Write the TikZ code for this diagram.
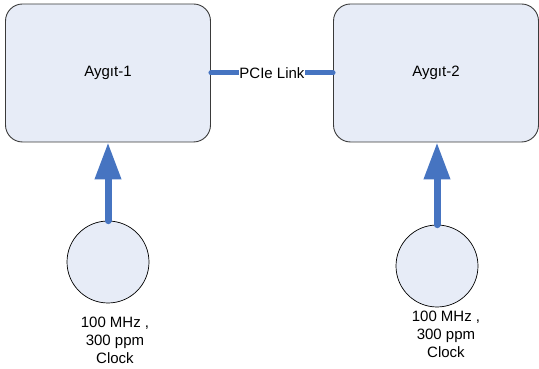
\documentclass[tikz,border=0pt]{standalone}
\usepackage{fontspec}
\setmainfont{Liberation Sans}
\usetikzlibrary{arrows.meta}
\definecolor{boxfill}{HTML}{E7ECF7}
\definecolor{linkblue}{HTML}{4674C1}
\definecolor{edgegray}{HTML}{3A3A3A}
\begin{document}
\begin{tikzpicture}[x=1pt,y=1pt,
  font=\fontsize{15}{18}\selectfont,
  device/.style={draw=edgegray, line width=0.9pt, fill=boxfill,
    rounded corners=17pt, minimum width=205pt, minimum height=138pt, inner sep=0pt},
  clock/.style={circle, draw=black, line width=0.7pt, fill=boxfill,
    minimum size=82pt, inner sep=0pt},
  clocklabel/.style={align=center, inner sep=0pt},
  flow/.style={linkblue, line width=7pt, line cap=round,
    -{Triangle[width=25pt,length=37pt]}},
  link/.style={linkblue, line width=5pt, line cap=round},
  linklabel/.style={fill=white, text=black, inner xsep=0.5pt, inner ysep=1pt}]
\useasboundingbox (0,0) rectangle (539,369);

% devices
\node[device] (box1) at (108,296) {Aygıt-1};
\node[device] (box2) at (436,296) {Aygıt-2};

% reference clocks
\node[clock] (clk1) at (108,107) {};
\node[clock] (clk2) at (437,103) {};
\node[clocklabel] (lbl1) at (115,28.5) {100 MHz ,\\300 ppm\\Clock};
\node[clocklabel] (lbl2) at (446,35) {100 MHz ,\\300 ppm\\Clock};

% clock feeds
\draw[flow] (clk1.north) -- (box1.south);
\draw[flow] (clk2.north) -- (box2.south -| clk2.north);

% link between the devices
\draw[link] (box1.east) -- node[linklabel] (linklbl) {PCIe Link} (box2.west);
\end{tikzpicture}
\end{document}
